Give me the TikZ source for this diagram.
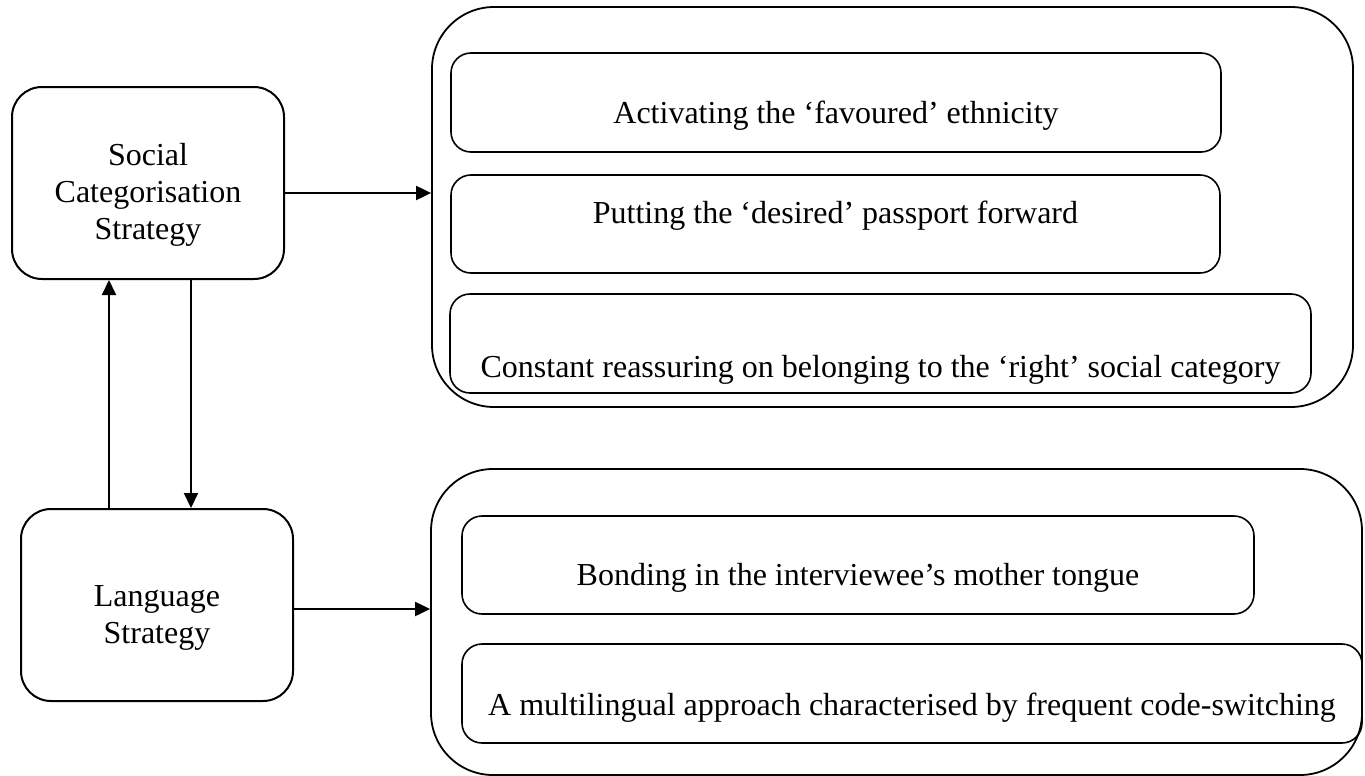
\documentclass[tikz,border=0pt]{standalone}
\usepackage{fontspec}
\setmainfont{Liberation Serif}
\usetikzlibrary{arrows.meta}
\begin{document}
\begin{tikzpicture}[x=0.5pt,y=-0.5pt,
  every node/.style={font=\fontsize{16}{18.5}\selectfont},
  every label/.style={align=center},
  sidebox/.style={draw,line width=1pt,rounded corners=15pt,minimum width=136pt,minimum height=96pt,inner sep=0pt},
  outerbox/.style={draw,line width=0.9pt,rounded corners=31pt,inner sep=0pt},
  itembox/.style={draw,line width=0.8pt,rounded corners=10pt,inner sep=0pt},
  arr/.style={line width=1pt,-{Triangle[length=7.5pt,width=7pt]}}]
\useasboundingbox (0,0) rectangle (1365,776);
\node[sidebox,label={[yshift=-6pt]center:Social\\Categorisation\\Strategy}] (social) at (148,183) {};
\node[sidebox,label={[yshift=-6.5pt]center:Language\\Strategy}] (language) at (157,605) {};
\node[outerbox,minimum width=460.5pt,minimum height=200pt] (outer1) at (892.5,207) {};
\node[outerbox,minimum width=465.5pt,minimum height=153pt] (outer2) at (896.5,622) {};
\node[itembox,minimum width=385pt,minimum height=49.5pt,
  label={[yshift=-6.5pt]center:Activating the ‘favoured’ ethnicity}] (b1) at (836,102.5) {};
\node[itembox,minimum width=384.5pt,minimum height=49pt,
  label={[yshift=4pt]center:Putting the ‘desired’ passport forward}] (b2) at (835.5,224) {};
\node[itembox,minimum width=430.5pt,minimum height=49.5pt,
  label={[yshift=-13pt]center:Constant reassuring on belonging to the ‘right’ social category}] (b3) at (880.5,343.5) {};
\node[itembox,minimum width=396pt,minimum height=49pt,
  label={[yshift=-6.5pt]center:Bonding in the interviewee’s mother tongue}] (b4) at (858,565) {};
\node[itembox,minimum width=450pt,minimum height=49.5pt,
  label={[yshift=-7pt]center:A multilingual approach characterised by frequent code-switching}] (b5) at (912,693.5) {};
\draw[arr] ([yshift=-5pt]social.east) -- ([yshift=-5pt]social.east -| outer1.west);
\draw[arr] ([yshift=-2pt]language.east) -- ([yshift=-2pt]language.east -| outer2.west);
\draw[arr] ([xshift=-24pt,yshift=-1pt]language.north) -- ([xshift=-24pt]language.north |- social.south);
\draw[arr] ([xshift=21.5pt]social.south) -- ([xshift=21.5pt]social.south |- language.north);
\end{tikzpicture}
\end{document}
